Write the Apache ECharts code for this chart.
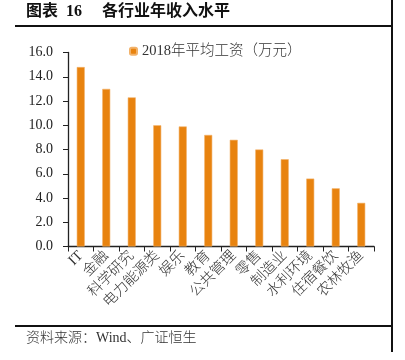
<!DOCTYPE html>
<html><head><meta charset="utf-8">
<script src="https://cdn.jsdelivr.net/npm/echarts@6/dist/echarts.min.js"></script>
<style>html,body{margin:0;padding:0;background:#fff}#c{width:405px;height:360px}</style>
</head><body><div id="c"></div>
<script>
var categories = ['IT','金融','科学研究','电力能源类','娱乐','教育','公共管理','零售','制造业','水利环境','住宿餐饮','农林牧渔'];
var wages = [14.8, 13.0, 12.3, 10.0, 9.9, 9.2, 8.8, 8.0, 7.2, 5.6, 4.8, 3.6];
var seriesName = '2018年平均工资（万元）';
var titleText = '图表  16     各行业年收入水平';
var sourceText = '资料来源：Wind、广证恒生';
var FONT = '"Liberation Serif", "Noto Sans CJK SC", serif';
var chart = echarts.init(document.getElementById('c'));
chart.setOption({
  animation: false,
  backgroundColor: '#fff',
  textStyle: {fontFamily: FONT},
  grid: {left: 68, right: 31, top: 52.5, bottom: 113.5},
  legend: {
    top: 39, left: 124,
    itemWidth: 7, itemHeight: 7, itemGap: 4,
    textStyle: {fontFamily: FONT, fontSize: 14.5, color: '#333', fontWeight: 300},
    data: [seriesName]
  },
  xAxis: {
    type: 'category', data: categories,
    axisLine: {lineStyle: {color: '#222', width: 1.3}},
    axisTick: {show: true, length: 5, lineStyle: {color: '#222'}},
    axisLabel: {rotate: 45, fontSize: 14.5, color: '#333', fontWeight: 300, fontFamily: FONT, margin: 7, interval: 0}
  },
  yAxis: {
    type: 'value', min: 0, max: 16, interval: 2,
    axisLine: {show: true, lineStyle: {color: '#222', width: 1.3}},
    axisTick: {show: true, length: 5, lineStyle: {color: '#222'}},
    splitLine: {show: false},
    axisLabel: {fontSize: 14, color: '#222', fontFamily: FONT, margin: 15, formatter: function(v){return v.toFixed(1);}}
  },
  series: [{
    name: seriesName, type: 'bar', data: wages, barWidth: 8,
    itemStyle: {color: '#E8830F', borderColor: '#F2B26A', borderWidth: 0.6}
  }],
  graphic: [
    {type: 'text', left: 26, top: 4, style: {text: titleText, font: 'bold 16px ' + FONT, fill: '#111'}},
    {type: 'rect', shape: {x: 15, y: 25, width: 377, height: 2}, style: {fill: '#111'}},
    {type: 'rect', shape: {x: 391, y: 0, width: 2, height: 352}, style: {fill: '#111'}},
    {type: 'rect', shape: {x: 15, y: 325, width: 377, height: 2}, style: {fill: '#111'}},
    {type: 'text', left: 26, top: 331, style: {text: sourceText, font: '300 14px ' + FONT, fill: '#333'}}
  ]
});
</script></body></html>
